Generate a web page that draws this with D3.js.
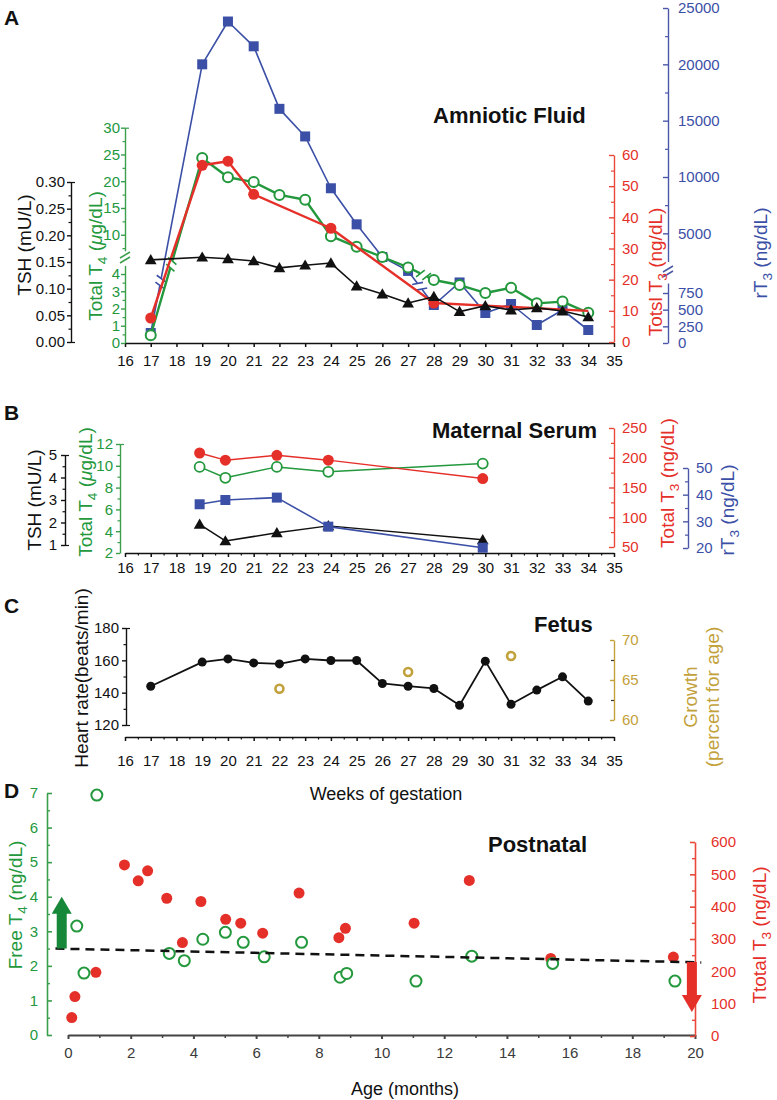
<!DOCTYPE html>
<html><head><meta charset="utf-8">
<script src="https://cdn.jsdelivr.net/npm/d3@7/dist/d3.min.js"></script>
<style>
html,body{margin:0;padding:0;background:#fff;}
svg text{font-family:"Liberation Sans",Arial,Helvetica,sans-serif;}
</style></head><body>
<script>
// ---------------- DATA ----------------
// Panel A: Amniotic fluid
const weeksA   = [17,19,20,21,22,23,24,25,26,27,28,29,30,31,32,33,34];
const tshA     = [0.154,0.159,0.156,0.152,0.139,0.144,0.148,0.105,0.090,0.073,0.085,0.057,0.068,0.060,0.064,0.058,0.047];
const totalT4A = [0.45,24.2,20.6,19.7,17.3,16.4,9.6,7.6,5.7,4.5,3.65,3.36,2.9,3.2,2.3,2.4,1.75];
const rT3A     = [150,20000,23800,21600,16050,13600,9000,5800,2900,1800,570,940,450,585,270,495,195];
const weeksT3A = [17,19,20,21,24,28,34];
const totalT3A = [7.7,56.7,58.0,47.4,36.5,12.5,10.0];
// Panel B: maternal serum
const weeksB   = [18.9,19.9,21.9,23.9,29.9];
const tshB     = [1.92,1.18,1.54,1.85,1.23];
const totalT4B = [9.9,8.9,9.9,9.45,10.2];
const totalT3B = [208,196,204,196,165];
const rT3B     = [36.4,38.0,38.9,28.0,20.1];
// Panel C: fetus
const weeksC    = [17,19,20,21,22,23,24,25,26,27,28,29,30,31,32,33,34];
const heartRate = [144,158.9,160.9,158.4,157.8,160.9,159.9,159.9,145.7,144,142.6,132.2,159.5,132.8,141.6,149.8,134.8];
const growthWeeks = [22,27,31];
const growthPct   = [63.9,66.0,68.0];
// Panel D: postnatal
const ageFT4  = [0.92,0.28,0.51,3.23,3.71,4.30,5.02,5.59,6.26,7.45,8.68,8.89,11.1,12.88,15.46,19.36];
const freeT4  = [6.94,3.15,1.79,2.36,2.15,2.77,2.97,2.68,2.26,2.68,1.67,1.78,1.56,2.28,2.07,1.56];
const ageT3   = [0.12,0.22,0.89,1.80,2.24,2.54,3.15,3.65,4.24,5.03,5.51,6.21,7.37,8.64,8.85,11.04,12.8,15.4,19.31];
const totalT3D= [57,122,197,529,480,511,426,289,416,361,349,318,442,304,333,349,481,240,244];
const trendAge = [-0.4,20.2];
const trendFT4 = [2.5,2.1];
const arrowUp   = {age:-0.2, from:2.5, to:4.0};   // free T4 units
const arrowDown = {age:19.9, from:229, to:74};    // total T3 units
// Tick values
const weekTicks  = d3.range(16,36);
const ageTicks   = d3.range(0,21,2);

// ---------------- SETUP ----------------
const F='"Liberation Sans",Arial,Helvetica,sans-serif';
const COL={blue:'#3b4fa6',blueAx:'#4a57a8',green:'#23983d',greenAx:'#3a9e4b',red:'#e5302a',redAx:'#e8473a',black:'#111',gold:'#c2a13a',grey:'#3a3a3a'};
const fd=d3.format('d');
const svg=d3.select('body').append('svg').attr('width',777).attr('height',1100);

function drawAxis(gen,tx,ty,color,textColor,fs,sw=1.4){
  const g=svg.append('g').attr('transform',`translate(${tx},${ty})`).call(gen);
  g.attr('font-family',F).attr('font-size',fs);
  g.select('.domain').attr('stroke',color).attr('stroke-width',sw);
  g.selectAll('.tick line').attr('stroke',color).attr('stroke-width',sw);
  g.selectAll('.tick text').attr('fill',textColor);
  return g;
}
function minorTicks(gen,tx,ty,color,sw=1.2){
  const g=svg.append('g').attr('transform',`translate(${tx},${ty})`).call(gen.tickFormat(()=>'').tickSizeOuter(0));
  g.select('.domain').remove();
  g.selectAll('.tick line').attr('stroke',color).attr('stroke-width',sw);
  return g;
}
function title(x,y,parts,o={}){
  const size=o.size||19;
  const t=svg.append('text').attr('transform',`translate(${x},${y})`+(o.rot===false?'':' rotate(-90)'))
    .attr('text-anchor',o.anchor||'middle').attr('fill',o.color||'#111').attr('font-size',size)
    .attr('font-weight',o.weight||'normal').style('white-space','pre');
  let down=0;
  parts.forEach(p=>{
    if(typeof p==='string') p={t:p};
    const s=t.append('tspan').text(p.t);
    if(p.sub){s.attr('font-size',size*0.72).attr('dy',size*0.28);down=size*0.28;}
    else if(down){s.attr('dy',-down);down=0;}
    if(p.it) s.attr('font-style','italic');
  });
  return t;
}
function axisBreak(x,y,color){
  [0,5].forEach(o=>svg.append('line').attr('x1',x-5).attr('y1',y+o+2).attr('x2',x+5).attr('y2',y+o-4)
    .attr('stroke',color).attr('stroke-width',1.5));
}
function lineBreak(p0,p1,t,color,w){
  const px=p0[0]+(p1[0]-p0[0])*t, py=p0[1]+(p1[1]-p0[1])*t;
  const dx=p1[0]-p0[0], dy=p1[1]-p0[1], L=Math.hypot(dx,dy), ux=dx/L, uy=dy/L;
  svg.append('line').attr('x1',px-ux*4).attr('y1',py-uy*4).attr('x2',px+ux*4).attr('y2',py+uy*4)
    .attr('stroke','#fff').attr('stroke-width',w+3);
  const a=Math.atan2(-ux,uy)+0.45, mx=Math.cos(a), my=Math.sin(a);
  [-3.5,3.5].forEach(o=>{const cx=px+ux*o, cy=py+uy*o;
    svg.append('line').attr('x1',cx-mx*5.5).attr('y1',cy-my*5.5).attr('x2',cx+mx*5.5).attr('y2',cy+my*5.5)
      .attr('stroke',color).attr('stroke-width',1.6);});
}
const line=d3.line();
function path(pts,color,w){svg.append('path').attr('d',line(pts)).attr('fill','none').attr('stroke',color).attr('stroke-width',w).attr('stroke-linejoin','round');}
function squares(pts,color,s){svg.append('g').selectAll('rect').data(pts).join('rect').attr('x',d=>d[0]-s/2).attr('y',d=>d[1]-s/2).attr('width',s).attr('height',s).attr('fill',color);}
function dots(pts,color,r){svg.append('g').selectAll('circle').data(pts).join('circle').attr('cx',d=>d[0]).attr('cy',d=>d[1]).attr('r',r).attr('fill',color);}
function rings(pts,color,r,w){svg.append('g').selectAll('circle').data(pts).join('circle').attr('cx',d=>d[0]).attr('cy',d=>d[1]).attr('r',r).attr('fill','#fff').attr('stroke',color).attr('stroke-width',w);}
function tris(pts,color,s){svg.append('g').selectAll('path').data(pts).join('path').attr('d',d3.symbol(d3.symbolTriangle,s)).attr('transform',d=>`translate(${d[0]},${d[1]+1})`).attr('fill',color);}

const xW=d3.scaleLinear([16,35],[125,614]);

// ---------------- PANEL A ----------------
const yTshA=d3.scaleLinear([0,0.30],[342,182]);
const yT4A=d3.scaleLinear([0,4,5,30],[343,274,260.75,127]);
const yT3A=d3.scaleLinear([0,60],[342,155]);
const yRT3A=d3.scaleLinear([0,900,2500,25000],[343,283,261.5,8]);

drawAxis(d3.axisBottom(xW).tickValues(weekTicks).tickFormat(fd).tickSizeInner(4).tickSizeOuter(0).tickPadding(8),0,343,'#111','#111',15,1.5);
// TSH
drawAxis(d3.axisLeft(yTshA).tickValues([0,0.05,0.10,0.15,0.20,0.25,0.30]).tickFormat(d3.format('.2f')).tickSizeInner(4).tickSizeOuter(0).tickPadding(2),71,0,'#111','#111',15);
minorTicks(d3.axisLeft(yTshA).tickValues([0.025,0.075,0.125,0.175,0.225,0.275]).tickSizeInner(2.5),71,0,'#111');
minorTicks(d3.axisLeft(yTshA).tickValues([0,0.30]).tickSizeInner(-4),71,0,'#111');
// Total T4 (broken)
const gLowA=d3.scaleLinear([0,4.5],[343,265.4]), gUpA=d3.scaleLinear([7,30],[250.8,127.7]);
drawAxis(d3.axisLeft(gLowA).tickValues([0,1,2,3,4]).tickFormat(fd).tickSizeInner(4).tickSizeOuter(0).tickPadding(1),125,0,COL.greenAx,COL.green,15);
minorTicks(d3.axisLeft(gLowA).tickValues([0.5,1.5,2.5,3.5]).tickSizeInner(2.5),125,0,COL.greenAx);
drawAxis(d3.axisLeft(gUpA).tickValues([10,15,20,25,30]).tickFormat(fd).tickSizeInner(4).tickSizeOuter(0).tickPadding(1),125,0,COL.greenAx,COL.green,15);
minorTicks(d3.axisLeft(gUpA).tickValues([7.5,12.5,17.5,22.5,27.5]).tickSizeInner(2.5),125,0,COL.greenAx);
minorTicks(d3.axisLeft(gUpA).tickValues([30]).tickSizeInner(-4),125,0,COL.greenAx);
axisBreak(125,256,COL.greenAx);
// Total T3
drawAxis(d3.axisRight(yT3A).tickValues([0,10,20,30,40,50,60]).tickFormat(fd).tickSizeInner(-5).tickSizeOuter(0).tickPadding(8),614,0,COL.redAx,COL.red,15);
minorTicks(d3.axisRight(yT3A).tickValues([5,15,25,35,45,55]).tickSizeInner(-3),614,0,COL.redAx);
// rT3 (broken)
const bLowA=d3.scaleLinear([0,900],[343,283]), bUpA=d3.scaleLinear([2500,25000],[261.5,8]);
drawAxis(d3.axisRight(bLowA).tickValues([0,250,500,750]).tickFormat(fd).tickSizeInner(-5).tickSizeOuter(0).tickPadding(10),668,0,COL.blueAx,COL.blue,15);
drawAxis(d3.axisRight(bUpA).tickValues([5000,10000,15000,20000,25000]).tickFormat(fd).tickSizeInner(-5).tickSizeOuter(0).tickPadding(10),668,0,COL.blueAx,COL.blue,15);
minorTicks(d3.axisRight(bUpA).tickValues([7500,12500,17500,22500]).tickSizeInner(-3),668,0,COL.blueAx);
axisBreak(668,270,COL.blueAx);

const pBlueA=weeksA.map((w,i)=>[xW(w),yRT3A(rT3A[i])]);
const pGreenA=weeksA.map((w,i)=>[xW(w),yT4A(totalT4A[i])]);
const pRedA=weeksT3A.map((w,i)=>[xW(w),yT3A(totalT3A[i])]);
const pBlackA=weeksA.map((w,i)=>[xW(w),yTshA(tshA[i])]);
path(pBlueA,COL.blue,1.6);
lineBreak(pBlueA[0],pBlueA[1],0.19,COL.blue,1.6);
lineBreak(pBlueA[9],pBlueA[10],0.45,COL.blue,1.6);
squares(pBlueA,COL.blue,10);
path(pGreenA,COL.green,2.4);
lineBreak(pGreenA[0],pGreenA[1],0.4,COL.green,2.4);
lineBreak(pGreenA[9],pGreenA[10],0.6,COL.green,2.4);
rings(pGreenA,COL.green,5,2);
path(pRedA,COL.red,2.4);
dots(pRedA.slice(0,-1),COL.red,5.5);   // last vertex has no visible marker in the original
path(pBlackA,'#111',1.6);
tris(pBlackA,'#111',60);

title(4,25,['A'],{rot:false,anchor:'start',weight:'bold',size:21});
title(433,123,['Amniotic Fluid'],{rot:false,anchor:'start',weight:'bold',size:22});
title(31,245,['TSH (mU/L)']);
title(102,256,['Total T',{t:'4',sub:true},' (',{t:'μ',it:true},'g/dL)'],{color:COL.green});
title(662,272,['Totsl T',{t:'3',sub:true},' (ng/dL)'],{color:COL.red});
title(767,253,['rT',{t:'3',sub:true},' (ng/dL)'],{color:COL.blue});

// ---------------- PANEL B ----------------
const yTshB=d3.scaleLinear([1,5],[545,455]);
const yT4B=d3.scaleLinear([2,12],[553,444]);
const yT3B=d3.scaleLinear([50,250],[547,428]);
const yRT3B=d3.scaleLinear([20,50],[548,468]);

drawAxis(d3.axisBottom(xW).tickValues(weekTicks).tickFormat(fd).tickSizeInner(4).tickSizeOuter(0).tickPadding(5),0,553,'#111','#111',15,1.5);
minorTicks(d3.axisBottom(xW).tickValues(d3.range(16.5,35,1)).tickSizeInner(2.5),0,553,'#111');
drawAxis(d3.axisLeft(yTshB).tickValues([1,2,3,4,5]).tickFormat(fd).tickSizeInner(4).tickSizeOuter(0).tickPadding(4),65,0,'#111','#111',15);
minorTicks(d3.axisLeft(yTshB).tickValues([1.5,2.5,3.5,4.5]).tickSizeInner(2.5),65,0,'#111');
minorTicks(d3.axisLeft(yTshB).tickValues([1,5]).tickSizeInner(-4),65,0,'#111');
drawAxis(d3.axisLeft(yT4B).tickValues([2,4,6,8,10,12]).tickFormat(fd).tickSizeInner(4).tickSizeOuter(0).tickPadding(3),120,0,COL.greenAx,COL.green,15);
minorTicks(d3.axisLeft(yT4B).tickValues([3,5,7,9,11]).tickSizeInner(2.5),120,0,COL.greenAx);
minorTicks(d3.axisLeft(yT4B).tickValues([12]).tickSizeInner(-4),120,0,COL.greenAx);
drawAxis(d3.axisRight(yT3B).tickValues([50,100,150,200,250]).tickFormat(fd).tickSizeInner(-5).tickSizeOuter(0).tickPadding(8),614,0,COL.redAx,COL.red,15);
minorTicks(d3.axisRight(yT3B).tickValues([75,125,175,225]).tickSizeInner(-3),614,0,COL.redAx);
drawAxis(d3.axisRight(yRT3B).tickValues([20,30,40,50]).tickFormat(fd).tickSizeInner(-5).tickSizeOuter(0).tickPadding(8),688,0,COL.blueAx,COL.blue,15);
minorTicks(d3.axisRight(yRT3B).tickValues([25,35,45]).tickSizeInner(-3),688,0,COL.blueAx);

const pGreenB=weeksB.map((w,i)=>[xW(w),yT4B(totalT4B[i])]);
const pRedB=weeksB.map((w,i)=>[xW(w),yT3B(totalT3B[i])]);
const pBlackB=weeksB.map((w,i)=>[xW(w),yTshB(tshB[i])]);
const pBlueB=weeksB.map((w,i)=>[xW(w),yRT3B(rT3B[i])]);
path(pGreenB,COL.green,1.5); rings(pGreenB,COL.green,5,1.8);
path(pRedB,COL.red,1.5); dots(pRedB,COL.red,5.5);
path(pBlackB,'#111',1.5); tris(pBlackB,'#111',60);
path(pBlueB,COL.blue,1.6); squares(pBlueB,COL.blue,10);

title(4,420,['B'],{rot:false,anchor:'start',weight:'bold',size:21});
title(432,438,['Maternal Serum'],{rot:false,anchor:'start',weight:'bold',size:22});
title(41,500,['TSH (mU/L)']);
title(92,492,['Total T',{t:'4',sub:true},' (',{t:'μ',it:true},'g/dL)'],{color:COL.green});
title(674,483,['Total T',{t:'3',sub:true},' (ng/dL)'],{color:COL.red});
title(734,510,['rT',{t:'3',sub:true},' (ng/dL)'],{color:COL.blue});

// ---------------- PANEL C ----------------
const yHR=d3.scaleLinear([120,180],[725,628]);
const yGr=d3.scaleLinear([60,70],[720,640]);
drawAxis(d3.axisBottom(xW).tickValues(weekTicks).tickFormat(fd).tickSizeInner(4).tickSizeOuter(0).tickPadding(14),0,737,'#111','#111',15,1.5);
minorTicks(d3.axisBottom(xW).tickValues(d3.range(16.5,35,1)).tickSizeInner(2.5),0,737,'#111');
drawAxis(d3.axisLeft(yHR).tickValues([120,140,160,180]).tickFormat(fd).tickSizeInner(4).tickSizeOuter(0).tickPadding(3),126,0,'#111','#111',15);
minorTicks(d3.axisLeft(yHR).tickValues([130,150,170]).tickSizeInner(2.5),126,0,'#111');
minorTicks(d3.axisLeft(yHR).tickValues([120,180]).tickSizeInner(-4),126,0,'#111');
drawAxis(d3.axisRight(yGr).tickValues([60,65,70]).tickFormat(fd).tickSizeInner(-4).tickSizeOuter(0).tickPadding(8),614,0,COL.gold,COL.gold,15);
minorTicks(d3.axisRight(yGr).tickValues([62.5,67.5]).tickSizeInner(-3),614,0,'#333');

const pHR=weeksC.map((w,i)=>[xW(w),yHR(heartRate[i])]);
path(pHR,'#111',1.8); dots(pHR,'#111',4.5);
rings(growthWeeks.map((w,i)=>[xW(w),yGr(growthPct[i])]),COL.gold,4,2.6);

title(4,613,['C'],{rot:false,anchor:'start',weight:'bold',size:21});
title(534,632,['Fetus'],{rot:false,anchor:'start',weight:'bold',size:22});
title(88,678,['Heart rate(beats/min)']);
title(697,697,['Growth'],{color:COL.gold});
title(719,697,['(percent for age)'],{color:COL.gold});
title(386,800,['Weeks of gestation'],{rot:false,size:18});

// ---------------- PANEL D ----------------
const xD=d3.scaleLinear([0,20],[68,695]);
const yFT4=d3.scaleLinear([0,7],[1035,793]);
const yT3D=d3.scaleLinear([0,600],[1036,842]);
drawAxis(d3.axisBottom(xD).tickValues(ageTicks).tickFormat(fd).tickSizeInner(4).tickSizeOuter(0).tickPadding(8),0,1035,'#444',COL.grey,15,2);
minorTicks(d3.axisBottom(xD).tickValues(d3.range(1,20,2)).tickSizeInner(3),0,1035,'#444',1.5);
drawAxis(d3.axisLeft(yFT4).tickValues(d3.range(0,8)).tickFormat(fd).tickSizeInner(-5).tickSizeOuter(0).tickPadding(9),47,0,COL.greenAx,COL.green,15,1.6);
minorTicks(d3.axisLeft(yFT4).tickValues(d3.range(0.5,7,1)).tickSizeInner(-3),47,0,COL.greenAx,1.4);
drawAxis(d3.axisRight(yT3D).tickValues(d3.range(0,601,100)).tickFormat(fd).tickSizeInner(-5).tickSizeOuter(0).tickPadding(16),695,0,COL.redAx,COL.red,15,1.6);
minorTicks(d3.axisRight(yT3D).tickValues(d3.range(50,600,100)).tickSizeInner(-3),695,0,COL.redAx,1.4);

dots(ageT3.map((a,i)=>[xD(a),yT3D(totalT3D[i])]),COL.red,5.5);
rings(ageFT4.map((a,i)=>[xD(a),yFT4(freeT4[i])]),COL.green,5.5,2);
svg.append('path').attr('d',line(trendAge.map((a,i)=>[xD(a),yFT4(trendFT4[i])])))
  .attr('stroke','#111').attr('stroke-width',2.5).attr('stroke-dasharray','9,6').attr('fill','none');

function arrow(x,y0,y1,color){
  const dir=Math.sign(y1-y0), hl=17, sw=5, hw=10;
  const yb=y1-dir*hl;
  svg.append('path').attr('d',`M${x-sw},${y0}L${x-sw},${yb}L${x-hw},${yb}L${x},${y1}L${x+hw},${yb}L${x+sw},${yb}L${x+sw},${y0}Z`).attr('fill',color);
}
arrow(xD(arrowUp.age),yFT4(arrowUp.from),yFT4(arrowUp.to),'#17883a');
arrow(xD(arrowDown.age),yT3D(arrowDown.from),yT3D(arrowDown.to),'#e5302a');

title(4,798,['D'],{rot:false,anchor:'start',weight:'bold',size:21});
title(488,852,['Postnatal'],{rot:false,anchor:'start',weight:'bold',size:22});
title(22,905,['Free T',{t:'4',sub:true},' (ng/dL)'],{color:COL.green});
title(766,935,['Ttotal T',{t:'3',sub:true},' (ng/dL)'],{color:COL.red});
title(405,1095,['Age (months)'],{rot:false,size:18});
</script>
</body></html>
